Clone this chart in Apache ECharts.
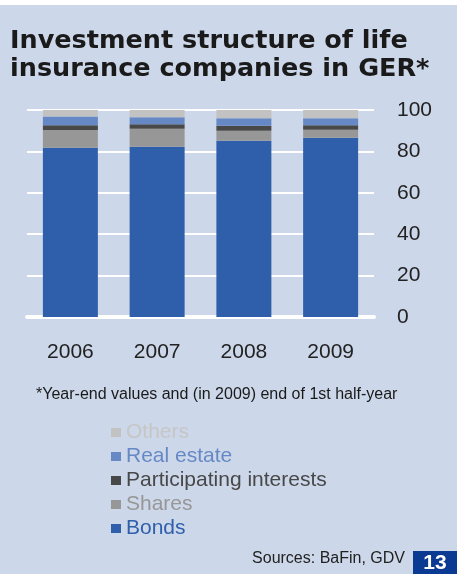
<!DOCTYPE html>
<html>
<head>
<meta charset="utf-8">
<title>Investment structure of life insurance companies in GER</title>
<script src="https://cdn.jsdelivr.net/npm/echarts@6/dist/echarts.min.js"></script>
<style>
  html, body { margin: 0; padding: 0; background: #ffffff; }
  #chart { width: 457px; height: 574px; }
</style>
</head>
<body>
<div id="chart"></div>
<script>
// Years on the category axis
const years = ['2006', '2007', '2008', '2009'];

// Share of total investments, in percent (stacked from the bottom)
const bonds         = [81.8, 82.3, 85.2, 86.6];
const shares        = [8.5, 8.7, 4.8, 3.9];
const participating = [2.3, 2.1, 2.4, 2.1];
const realEstate    = [4.2, 3.4, 3.6, 3.4];
const others        = [3.2, 3.5, 4.0, 4.0];

// Value-axis ticks
const yTicks = [0, 20, 40, 60, 80, 100];

const seriesNames  = ['Bonds', 'Shares', 'Participating interests', 'Real estate', 'Others'];
const seriesData   = [bonds, shares, participating, realEstate, others];
const seriesColors = ['#2f5fab', '#979797', '#484848', '#6689c5', '#c2c2c2'];

const FONT = '"Liberation Sans", Arial, sans-serif';

const chart = echarts.init(document.getElementById('chart'), null, { renderer: 'canvas' });

const option = {
  backgroundColor: '#ccd7e9',
  animation: false,
  title: {
    text: 'Investment structure of life\ninsurance companies in GER*',
    left: 10,
    top: 27,
    padding: 0,
    textStyle: {
      fontFamily: '"DejaVu Sans", sans-serif',
      fontWeight: 'bold',
      fontSize: 25.5,
      lineHeight: 28,
      color: '#1a1a1a'
    }
  },
  grid: { left: 27, right: 83, top: 110, bottom: 257 },
  xAxis: {
    type: 'category',
    data: years,
    axisLine: { lineStyle: { color: '#ffffff', width: 4 } },
    axisTick: { show: false },
    axisLabel: { margin: 25, fontSize: 21, color: '#222222', fontFamily: FONT }
  },
  yAxis: {
    type: 'value',
    position: 'right',
    min: yTicks[0],
    max: yTicks[yTicks.length - 1],
    interval: yTicks[1] - yTicks[0],
    axisLine: { show: false },
    axisTick: { show: false },
    splitLine: { lineStyle: { color: '#ffffff', width: 2 } },
    axisLabel: { margin: 23, fontSize: 21, color: '#222222', fontFamily: FONT }
  },
  legend: {
    orient: 'vertical',
    left: 111,
    top: 422,
    icon: 'rect',
    itemWidth: 10,
    itemHeight: 9,
    itemGap: 3,
    padding: 0,
    selectedMode: false,
    textStyle: { fontSize: 21, lineHeight: 20, fontFamily: FONT },
    data: seriesNames.slice().reverse().map(function (name) {
      const i = seriesNames.indexOf(name);
      return { name: name, textStyle: { color: i === 4 ? '#c6c6c6' : seriesColors[i] } };
    })
  },
  series: seriesNames.map(function (name, i) {
    return {
      name: name,
      type: 'bar',
      stack: 'total',
      barWidth: 55,
      data: seriesData[i],
      itemStyle: { color: seriesColors[i] },
      emphasis: { disabled: true }
    };
  }),
  graphic: [
    {
      type: 'rect',
      shape: { x: 0, y: 0, width: 457, height: 5 },
      style: { fill: '#ffffff' },
      silent: true
    },
    {
      type: 'text',
      left: 36,
      top: 387,
      style: {
        text: '*Year-end values and (in 2009) end of 1st half-year',
        fontSize: 16,
        fontFamily: FONT,
        fill: '#1a1a1a'
      }
    },
    {
      type: 'text',
      right: 52,
      top: 551,
      style: {
        text: 'Sources: BaFin, GDV',
        fontSize: 16,
        fontFamily: FONT,
        fill: '#222222'
      }
    },
    {
      type: 'rect',
      shape: { x: 413, y: 551, width: 44, height: 23 },
      style: { fill: '#0b3a92' }
    },
    {
      type: 'text',
      x: 435,
      y: 563,
      style: {
        text: '13',
        fontSize: 21,
        fontWeight: 'bold',
        fontFamily: FONT,
        fill: '#ffffff',
        align: 'center',
        verticalAlign: 'middle'
      }
    }
  ]
};

chart.setOption(option);
</script>
</body>
</html>
